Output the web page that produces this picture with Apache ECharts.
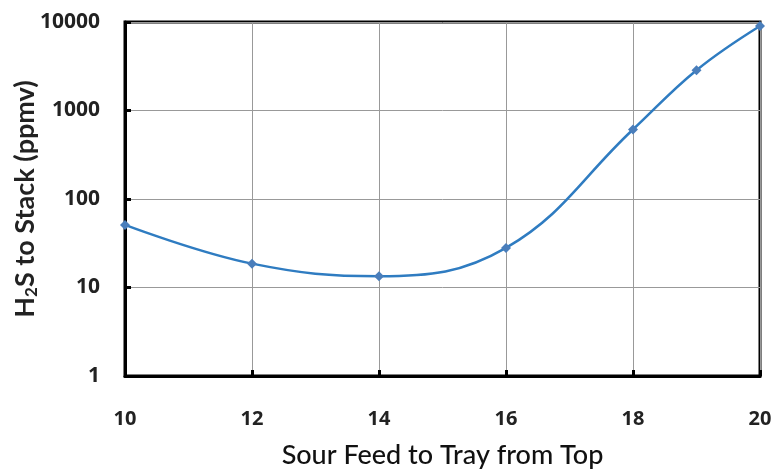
<!DOCTYPE html>
<html><head><meta charset="utf-8">
<script src="https://cdn.jsdelivr.net/npm/echarts@6/dist/echarts.min.js"></script>
<style>html,body{margin:0;padding:0;background:#fff}#c{width:774px;height:470px}</style>
</head><body><div id="c"></div>
<script>
var trays = [10, 12, 14, 16, 18, 19, 20];
var h2s = [51, 18.6, 13.4, 28, 610, 2850, 9000];
var xTicks = [10, 12, 14, 16, 18, 20];
var yTicks = [1, 10, 100, 1000, 10000];

var chart = echarts.init(document.getElementById('c'));
var font = 'Lato';
var tickFont = 'Open Sans';
chart.setOption({
  animation: false,
  grid: {left: 125, right: 14, top: 22, bottom: 94, show: true, borderColor: '#000', borderWidth: 3, backgroundColor: 'transparent', outerBoundsMode: 'none', containLabel: false},
  xAxis: {
    type: 'value', min: xTicks[0], max: xTicks[xTicks.length-1], interval: 2,
    name: 'Sour Feed to Tray from Top', nameLocation: 'middle', nameGap: 66,
    nameTextStyle: {fontFamily: font, fontSize: 27, fontWeight: 500, color: '#111'},
    axisLine: {show: true, lineStyle: {color: '#000', width: 3}},
    axisTick: {show: true, inside: true, length: 6, lineStyle: {color: '#000', width: 3}},
    axisLabel: {fontFamily: tickFont, fontWeight: 'bold', fontSize: 20, color: '#222', margin: 33},
    splitLine: {show: true, lineStyle: {color: '#999', width: 1}}
  },
  yAxis: {
    type: 'log', logBase: 10, min: yTicks[0], max: yTicks[yTicks.length-1],
    name: '{a|H}{s|2}{a|S to Stack (ppmv)}', nameLocation: 'middle', nameGap: 85, nameRotate: 90,
    nameMoveOverlap: false,
    nameTextStyle: {rich: {a: {fontFamily: font, fontSize: 27, fontWeight: 'bold', color: '#222'}, s: {fontFamily: font, fontSize: 17, fontWeight: 'bold', color: '#222', verticalAlign: 'bottom', padding: [12,0,0,0]}}},
    axisLine: {show: true, lineStyle: {color: '#000', width: 3}},
    axisTick: {show: true, inside: true, length: 6, lineStyle: {color: '#000', width: 3}},
    axisLabel: {fontFamily: tickFont, fontWeight: 'bold', fontSize: 21, color: '#222', margin: 25,
      formatter: function(v){ return String(v); }},
    splitLine: {show: true, lineStyle: {color: '#999', width: 1}},
    minorTick: {show: false}
  },
  series: [{
    type: 'line', data: trays.map(function(t, i){ return [t, h2s[i]]; }),
    smooth: 0.4, symbol: 'diamond', symbolSize: 10,
    lineStyle: {color: '#2f7cc1', width: 2.5},
    itemStyle: {color: '#4a7ebb'}
  }]
});
</script></body></html>
